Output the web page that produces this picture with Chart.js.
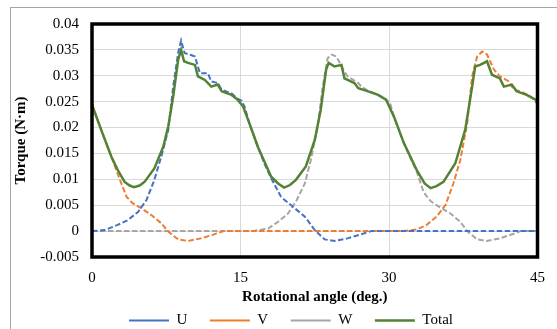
<!DOCTYPE html>
<html lang="en">
<head>
<meta charset="UTF-8">
<title>Torque vs rotational angle</title>
<script src="https://cdn.jsdelivr.net/npm/chart.js@4"></script>
<style>
    html, body { margin: 0; padding: 0; background: #fff; overflow: hidden; }
    #wrap { position: relative; width: 557px; height: 329px; }
    #outline { position: absolute; left: 10px; top: 7px; width: 600px; height: 400px;
               border-left: 1px solid #a6a6a6; border-top: 1px solid #a6a6a6; pointer-events: none; }
</style>
</head>
<body>

<div id="wrap">
    <canvas id="torqueChart" width="557" height="329"></canvas>
    <div id="outline"></div>
</div>

<script>
// Values (angle in deg., torque in N·m)
const uAngle = [0, 1.3, 2.6, 3.6, 4.65, 5.5, 6.3, 7.0, 7.7, 8.2, 8.7, 9.0, 9.35, 10.0, 10.4, 10.9, 11.7, 12.05, 12.7, 13.1, 14.1, 14.7, 15.1, 15.4, 15.9, 16.75, 17.4, 18.1, 19.1, 20.3, 21.5, 22.5, 23.5, 24.5, 25.8, 27.2, 28.2, 45];
const uTorque = [0, 0.0002, 0.0012, 0.0021, 0.0037, 0.006, 0.0099, 0.0144, 0.0195, 0.0279, 0.0344, 0.0368, 0.0344, 0.034, 0.0337, 0.0305, 0.0305, 0.0289, 0.0286, 0.0273, 0.0266, 0.0256, 0.0252, 0.0241, 0.0208, 0.0163, 0.0131, 0.0102, 0.0066, 0.0047, 0.0028, 0.0002, -0.0016, -0.0019, -0.0014, -0.0006, 0, 0];

const vAngle = [0, 0.94, 1.95, 2.45, 2.96, 3.5, 4.1, 5.0, 6.0, 7.0, 7.7, 8.7, 9.7, 11.0, 12.05, 13.3, 30, 31.5, 32.8, 33.8, 34.8, 35.7, 36.5, 37.2, 37.9, 38.4, 38.9, 39.4, 39.9, 40.6, 41.2, 42.1, 42.6, 43.3, 44.3, 45];
const vTorque = [0.0244, 0.0195, 0.0144, 0.0118, 0.0092, 0.0066, 0.0054, 0.0044, 0.0031, 0.0015, -0.0001, -0.0016, -0.0019, -0.0014, -0.0008, 0, 0, 0, 0.0003, 0.0012, 0.0028, 0.005, 0.0092, 0.0137, 0.0208, 0.0299, 0.0337, 0.0347, 0.0341, 0.0312, 0.0299, 0.0289, 0.0273, 0.027, 0.026, 0.0247];

const wAngle = [0, 15, 16.4, 17.8, 18.8, 19.8, 20.6, 21.5, 22.1, 22.8, 23.3, 23.8, 24.2, 24.7, 25.2, 25.8, 26.9, 27.2, 27.9, 28.9, 29.7, 30.1, 30.5, 31.5, 32.3, 32.8, 33.5, 34.2, 34.8, 36.2, 37.2, 37.9, 38.9, 39.9, 41.2, 42.6, 43.3, 45];
const wTorque = [0, 0, 0.00005, 0.0005, 0.0018, 0.0034, 0.0057, 0.0092, 0.0137, 0.0202, 0.0279, 0.0334, 0.0341, 0.0337, 0.0318, 0.0299, 0.0286, 0.0279, 0.0271, 0.0263, 0.0254, 0.0248, 0.0221, 0.017, 0.0135, 0.0115, 0.0075, 0.0058, 0.005, 0.0034, 0.0018, 0, -0.0016, -0.0019, -0.0014, -0.0005, 0, 0];

const totalAngle = [0, 0.94, 1.95, 2.6, 3.3, 3.8, 4.24, 4.8, 5.3, 6.3, 7.2, 7.7, 8.2, 8.7, 9.0, 9.3, 9.7, 10.4, 10.7, 11.4, 12.05, 12.7, 13.1, 14.1, 14.7, 15.25, 15.9, 16.75, 18.1, 18.8, 19.4, 20.0, 20.6, 21.6, 22.5, 23.1, 23.65, 23.9, 24.5, 25.2, 25.5, 26.5, 26.9, 27.9, 28.9, 29.7, 30.5, 31.5, 32.8, 33.6, 34.2, 34.8, 35.5, 36.7, 37.7, 38.4, 38.7, 39.2, 39.9, 40.4, 41.2, 41.6, 42.4, 42.9, 43.9, 44.8, 45];
const totalTorque = [0.0244, 0.0195, 0.0144, 0.0118, 0.0095, 0.0088, 0.0085, 0.0088, 0.0095, 0.0121, 0.0163, 0.0202, 0.026, 0.0331, 0.035, 0.0328, 0.0325, 0.0321, 0.0299, 0.0292, 0.0279, 0.0283, 0.027, 0.0263, 0.0254, 0.0241, 0.0208, 0.0163, 0.0105, 0.0092, 0.0084, 0.0089, 0.0099, 0.0125, 0.0176, 0.0234, 0.0312, 0.0325, 0.0318, 0.0321, 0.0295, 0.0286, 0.0276, 0.027, 0.0263, 0.0254, 0.0221, 0.017, 0.0118, 0.0092, 0.0083, 0.0087, 0.0095, 0.0131, 0.0196, 0.0279, 0.0318, 0.0321, 0.0328, 0.0302, 0.0295, 0.0279, 0.0283, 0.027, 0.0263, 0.0254, 0.0245];

const seriesLabels = ['U', 'V', 'W', 'Total'];
const xTicks = { min: 0, max: 45, step: 15 };
const yTicks = { min: -0.005, max: 0.04, step: 0.005 };

function toPoints(xs, ys) {
    return xs.map((x, i) => ({ x: x, y: ys[i] }));
}

const serif = 'Liberation Serif, "Times New Roman", serif';
const tickFont = { family: serif, size: 15 };
const titleFont = { family: serif, size: 15, weight: 'bold' };

// thick black box round the plot area
const plotFrame = {
    id: 'plotFrame',
    afterDatasetsDraw(chart) {
        const { ctx, chartArea: a } = chart;
        ctx.save();
        ctx.strokeStyle = '#000';
        ctx.lineWidth = 3.5;
        ctx.strokeRect(a.left, a.top, a.right - a.left, a.bottom - a.top);
        ctx.restore();
    }
};

// legend sits a bit left of centre and higher than Chart.js puts it
const legendShift = {
    id: 'legendShift',
    afterLayout(chart) {
        const l = chart.legend;
        l.left += 16; l.right += 16;
        l.top -= 15.5;
        l.bottom = chart.height;
        l.height = l.bottom - l.top;
    }
};

const ctx = document.getElementById('torqueChart').getContext('2d');
new Chart(ctx, {
    type: 'line',
    data: {
        datasets: [
            { label: seriesLabels[0], data: toPoints(uAngle, uTorque), borderColor: '#4472c4', borderDash: [5.5, 2.5], borderWidth: 2, order: 1 },
            { label: seriesLabels[1], data: toPoints(vAngle, vTorque), borderColor: '#ed7d31', borderDash: [5.5, 2.5], borderWidth: 2, order: 1 },
            { label: seriesLabels[2], data: toPoints(wAngle, wTorque), borderColor: '#a5a5a5', borderDash: [5.5, 2.5], borderWidth: 2, order: 1 },
            { label: seriesLabels[3], data: toPoints(totalAngle, totalTorque), borderColor: '#548235', borderWidth: 2.5, order: 0 }
        ]
    },
    options: {
        responsive: false,
        animation: false,
        events: [],
        layout: { padding: { left: 10, right: 17, top: 24, bottom: 0 } },
        elements: {
            point: { radius: 0 },
            line: { tension: 0, fill: false, backgroundColor: 'transparent' }
        },
        scales: {
            x: {
                type: 'linear',
                min: xTicks.min,
                max: xTicks.max,
                ticks: { stepSize: xTicks.step, padding: 12, color: '#000', font: tickFont },
                grid: { color: '#d9d9d9', lineWidth: 1, drawTicks: false },
                border: { display: false },
                title: { display: true, text: 'Rotational angle (deg.)', color: '#000', font: titleFont, padding: { top: -11, bottom: 0 } }
            },
            y: {
                min: yTicks.min,
                max: yTicks.max,
                afterFit(scale) { scale.width = 82; },
                ticks: {
                    stepSize: yTicks.step,
                    padding: 13,
                    color: '#000',
                    font: tickFont,
                    callback: v => String(parseFloat(v.toFixed(3)))
                },
                grid: { color: '#d9d9d9', lineWidth: 1, drawTicks: false },
                border: { display: false },
                title: { display: true, text: 'Torque (N·m)', color: '#000', font: titleFont, padding: { top: 2, bottom: 0 } }
            }
        },
        plugins: {
            legend: {
                position: 'bottom',
                maxHeight: 23,
                labels: {
                    usePointStyle: true,
                    pointStyle: 'line',
                    pointStyleWidth: 40,
                    padding: 22.5,
                    color: '#000',
                    font: tickFont,
                    sort: (a, b) => a.datasetIndex - b.datasetIndex
                }
            },
            tooltip: { enabled: false }
        }
    },
    plugins: [plotFrame, legendShift]
});
</script>

</body>
</html>
